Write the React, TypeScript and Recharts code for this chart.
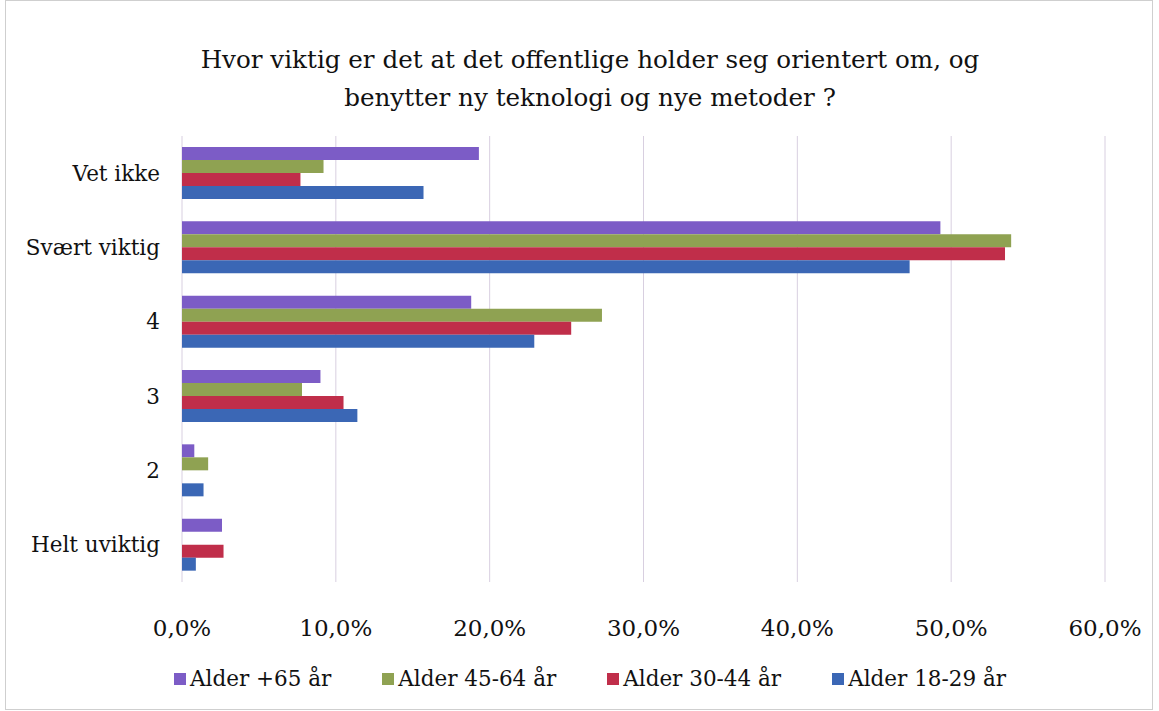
import React from "react";
import { BarChart, Bar, XAxis, YAxis, CartesianGrid } from "recharts";

const categories = ["Vet ikke", "Svært viktig", "4", "3", "2", "Helt uviktig"];
const age65 = [19.3, 49.3, 18.8, 9.0, 0.8, 2.6];
const age4564 = [9.2, 53.9, 27.3, 7.8, 1.7, 0];
const age3044 = [7.7, 53.5, 25.3, 10.5, 0, 2.7];
const age1829 = [15.7, 47.3, 22.9, 11.4, 1.4, 0.9];
const xTicks = [0, 10, 20, 30, 40, 50, 60];

const series = [
  { key: "a65", name: "Alder +65 år", color: "#7C5CC6", values: age65 },
  { key: "a4564", name: "Alder 45-64 år", color: "#8FA252", values: age4564 },
  { key: "a3044", name: "Alder 30-44 år", color: "#C02E4A", values: age3044 },
  { key: "a1829", name: "Alder 18-29 år", color: "#3B67B5", values: age1829 },
];

const data = categories.map((name, i) => {
  const row: Record<string, string | number> = { name };
  series.forEach((s) => {
    row[s.key] = s.values[i];
  });
  return row;
});

const font = "'DejaVu Serif', serif";
const pct = (v: number) => v.toFixed(1).replace(".", ",") + "%";

export default function App() {
  return (
    <div style={{ position: "absolute", left: 0, top: 0, width: 1159, height: 711, background: "#fff" }}>
      <div style={{ position: "absolute", left: 5, top: 0, width: 1146, height: 708, border: "1px solid #cfcfcf" }} />
      <div
        style={{
          position: "absolute",
          left: 0,
          top: 41,
          width: 1180,
          textAlign: "center",
          fontFamily: font,
          fontSize: 24.6,
          lineHeight: "38px",
          color: "#111",
        }}
      >
        Hvor viktig er det at det offentlige holder seg orientert om, og
        <br />
        benytter ny teknologi og nye metoder ?
      </div>
      <BarChart
        width={1159}
        height={711}
        data={data}
        layout="vertical"
        margin={{ top: 136, right: 54, bottom: 89, left: 0 }}
        barSize={13}
        barGap={0}
        style={{ position: "absolute", left: 0, top: 0 }}
      >
        <CartesianGrid horizontal={false} stroke="#d8cfe0" />
        <XAxis
          type="number"
          domain={[0, 60]}
          ticks={xTicks}
          tickFormatter={pct}
          axisLine={false}
          tickLine={false}
          tickSize={0}
          tickMargin={38}
          height={40}
          tick={{ fontFamily: font, fontSize: 23, fill: "#111" }}
        />
        <YAxis
          type="category"
          dataKey="name"
          width={182}
          axisLine={false}
          tickLine={false}
          tickSize={0}
          tickMargin={22}
          tick={{ fontFamily: font, fontSize: 21.5, fill: "#111" }}
        />
        {series.map((s) => (
          <Bar key={s.key} dataKey={s.key} name={s.name} fill={s.color} isAnimationActive={false} />
        ))}
      </BarChart>
      <div
        style={{
          position: "absolute",
          left: 174,
          top: 666,
          display: "flex",
          fontFamily: font,
          fontSize: 21.5,
          color: "#111",
        }}
      >
        {series.map((s) => (
          <div key={s.key} style={{ display: "flex", alignItems: "center", marginRight: 51 }}>
            <span style={{ width: 12, height: 12, background: s.color, display: "inline-block", marginRight: 4 }} />
            <span>{s.name}</span>
          </div>
        ))}
      </div>
    </div>
  );
}
